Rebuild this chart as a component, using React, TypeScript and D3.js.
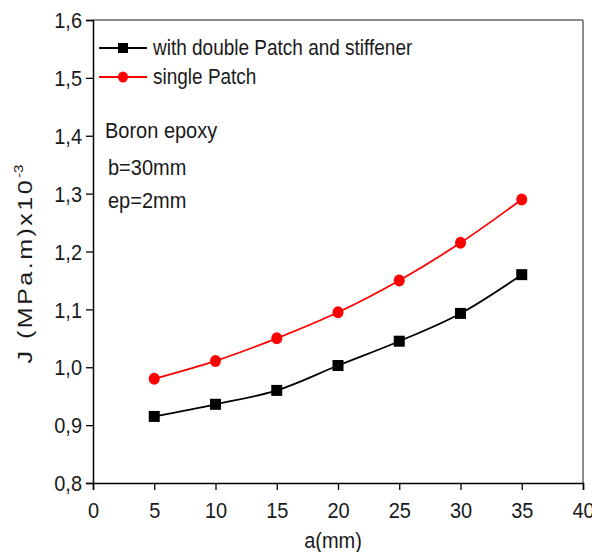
import React, { useEffect, useRef } from "react";
import * as d3 from "d3";

const crack = [5, 10, 15, 20, 25, 30, 35];
const doublePatch = [0.915, 0.936, 0.96, 1.003, 1.045, 1.093, 1.16];
const singlePatch = [0.98, 1.011, 1.05, 1.095, 1.15, 1.215, 1.29];
const xTicks = [0, 5, 10, 15, 20, 25, 30, 35, 40];
const yTicks = [0.8, 0.9, 1.0, 1.1, 1.2, 1.3, 1.4, 1.5, 1.6];
const seriesNames = ["with double Patch and stiffener", "single Patch"];
const notes = ["Boron epoxy", "b=30mm", "ep=2mm"];

const W = 592;
const H = 552;
const FONT = "'Liberation Sans', Arial, sans-serif";
const STRETCH = 1.12; // the original glyphs are a bit taller than Arial

const App = () => {
  const ref = useRef<SVGSVGElement>(null);

  useEffect(() => {
    const svg = d3.select(ref.current);
    svg.selectAll("*").remove();

    const margin = { top: 20, right: 9, bottom: 69, left: 93 };
    const x = d3.scaleLinear().domain([0, 40]).range([margin.left, W - margin.right]);
    const y = d3.scaleLinear().domain([0.8, 1.6]).range([H - margin.bottom, margin.top]);

    const label = (tx: number, ty: number, size: number, txt: string, anchor = "start") =>
      svg.append("text")
        .attr("transform", `translate(${tx},${ty}) scale(1,${STRETCH})`)
        .attr("text-anchor", anchor)
        .attr("font-family", FONT).attr("font-size", size).attr("fill", "#1a1a1a")
        .text(txt);

    // frame (top/right in grey)
    svg.append("line")
      .attr("x1", x(0)).attr("x2", x(40)).attr("y1", y(1.6)).attr("y2", y(1.6))
      .attr("stroke", "#666").attr("stroke-width", 1.5);
    svg.append("line")
      .attr("x1", x(40)).attr("x2", x(40)).attr("y1", y(1.6)).attr("y2", y(0.8))
      .attr("stroke", "#666").attr("stroke-width", 1.5);

    // x axis
    const gx = svg.append("g").attr("transform", `translate(0,${y(0.8)})`);
    gx.call(d3.axisBottom(x).tickValues(d3.range(0, 40.1, 2.5)).tickSize(5).tickFormat(() => ""));
    gx.call(d3.axisBottom(x).tickValues(xTicks).tickSize(7).tickFormat(d3.format("d")));
    gx.selectAll(".domain").attr("stroke", "#000").attr("stroke-width", 1.5);
    gx.selectAll("line").attr("stroke", "#000").attr("stroke-width", 1.3);
    gx.selectAll("text")
      .attr("font-family", FONT).attr("font-size", 20).attr("fill", "#1a1a1a")
      .attr("dy", null).attr("y", 31.5)
      .attr("transform", `scale(1,${STRETCH})`);

    // y axis
    const gy = svg.append("g").attr("transform", `translate(${x(0)},0)`);
    gy.call(d3.axisLeft(y).tickValues(d3.range(0.8, 1.601, 0.05)).tickSize(4).tickFormat(() => ""));
    gy.call(
      d3.axisLeft(y).tickValues(yTicks).tickSize(7)
        .tickFormat((d) => d3.format(".1f")(d as number).replace(".", ","))
    );
    gy.selectAll(".domain").attr("stroke", "#000").attr("stroke-width", 1.5);
    gy.selectAll("line").attr("stroke", "#000").attr("stroke-width", 1.3);
    gy.selectAll("text")
      .attr("font-family", FONT).attr("font-size", 20).attr("fill", "#1a1a1a")
      .attr("x", -11).attr("dy", "0.34em")
      .attr("transform", `scale(1,${STRETCH})`);

    // axis titles
    label((x(0) + x(40)) / 2 - 5, 548, 20, "a(mm)", "middle");

    // y title is drawn wide along its reading direction, like the original
    const yl = svg.append("text")
      .attr("transform", `translate(32,264) rotate(-90) scale(1.25,1)`)
      .attr("text-anchor", "middle")
      .attr("font-family", FONT).attr("font-size", 20).attr("fill", "#1a1a1a")
      .attr("letter-spacing", 2);
    yl.append("tspan").text("J (MPa.m)x10");
    yl.append("tspan").attr("font-size", 12).attr("dy", -9).attr("letter-spacing", 0).text("-3");

    const line = d3.line<number>()
      .x((_, i) => x(crack[i]))
      .y((d) => y(d))
      .curve(d3.curveCatmullRom);

    const series = [
      { values: doublePatch, color: "#000", shape: "square" },
      { values: singlePatch, color: "#ff0000", shape: "circle" },
    ];

    series.forEach((s) => {
      svg.append("path")
        .datum(s.values)
        .attr("d", line)
        .attr("fill", "none")
        .attr("stroke", s.color)
        .attr("stroke-width", 1.8);
      if (s.shape === "square") {
        svg.selectAll(null).data(s.values).enter().append("rect")
          .attr("x", (_, i) => x(crack[i]) - 5.5)
          .attr("y", (d) => y(d) - 5.5)
          .attr("width", 11).attr("height", 11)
          .attr("fill", s.color);
      } else {
        svg.selectAll(null).data(s.values).enter().append("ellipse")
          .attr("cx", (_, i) => x(crack[i]))
          .attr("cy", (d) => y(d))
          .attr("rx", 5.5).attr("ry", 6)
          .attr("fill", s.color);
      }
    });

    // legend
    series.forEach((s, i) => {
      const ly = 48 + i * 29;
      svg.append("line")
        .attr("x1", 99).attr("x2", 147).attr("y1", ly).attr("y2", ly)
        .attr("stroke", s.color).attr("stroke-width", 1.8);
      if (s.shape === "square") {
        svg.append("rect").attr("x", 118).attr("y", ly - 5).attr("width", 10).attr("height", 10).attr("fill", s.color);
      } else {
        svg.append("ellipse").attr("cx", 123).attr("cy", ly).attr("rx", 5).attr("ry", 5.5).attr("fill", s.color);
      }
      label(153, ly + 7, 19, seriesNames[i]);
    });

    // annotation
    const noteY = [138, 175, 208];
    const noteX = [105, 108, 108];
    notes.forEach((t, i) => label(noteX[i], noteY[i], 20, t));
  }, []);

  return (
    <svg
      ref={ref}
      width={W}
      height={H}
      style={{ position: "absolute", left: 0, top: 0, background: "#fff" }}
    />
  );
};

export default App;
